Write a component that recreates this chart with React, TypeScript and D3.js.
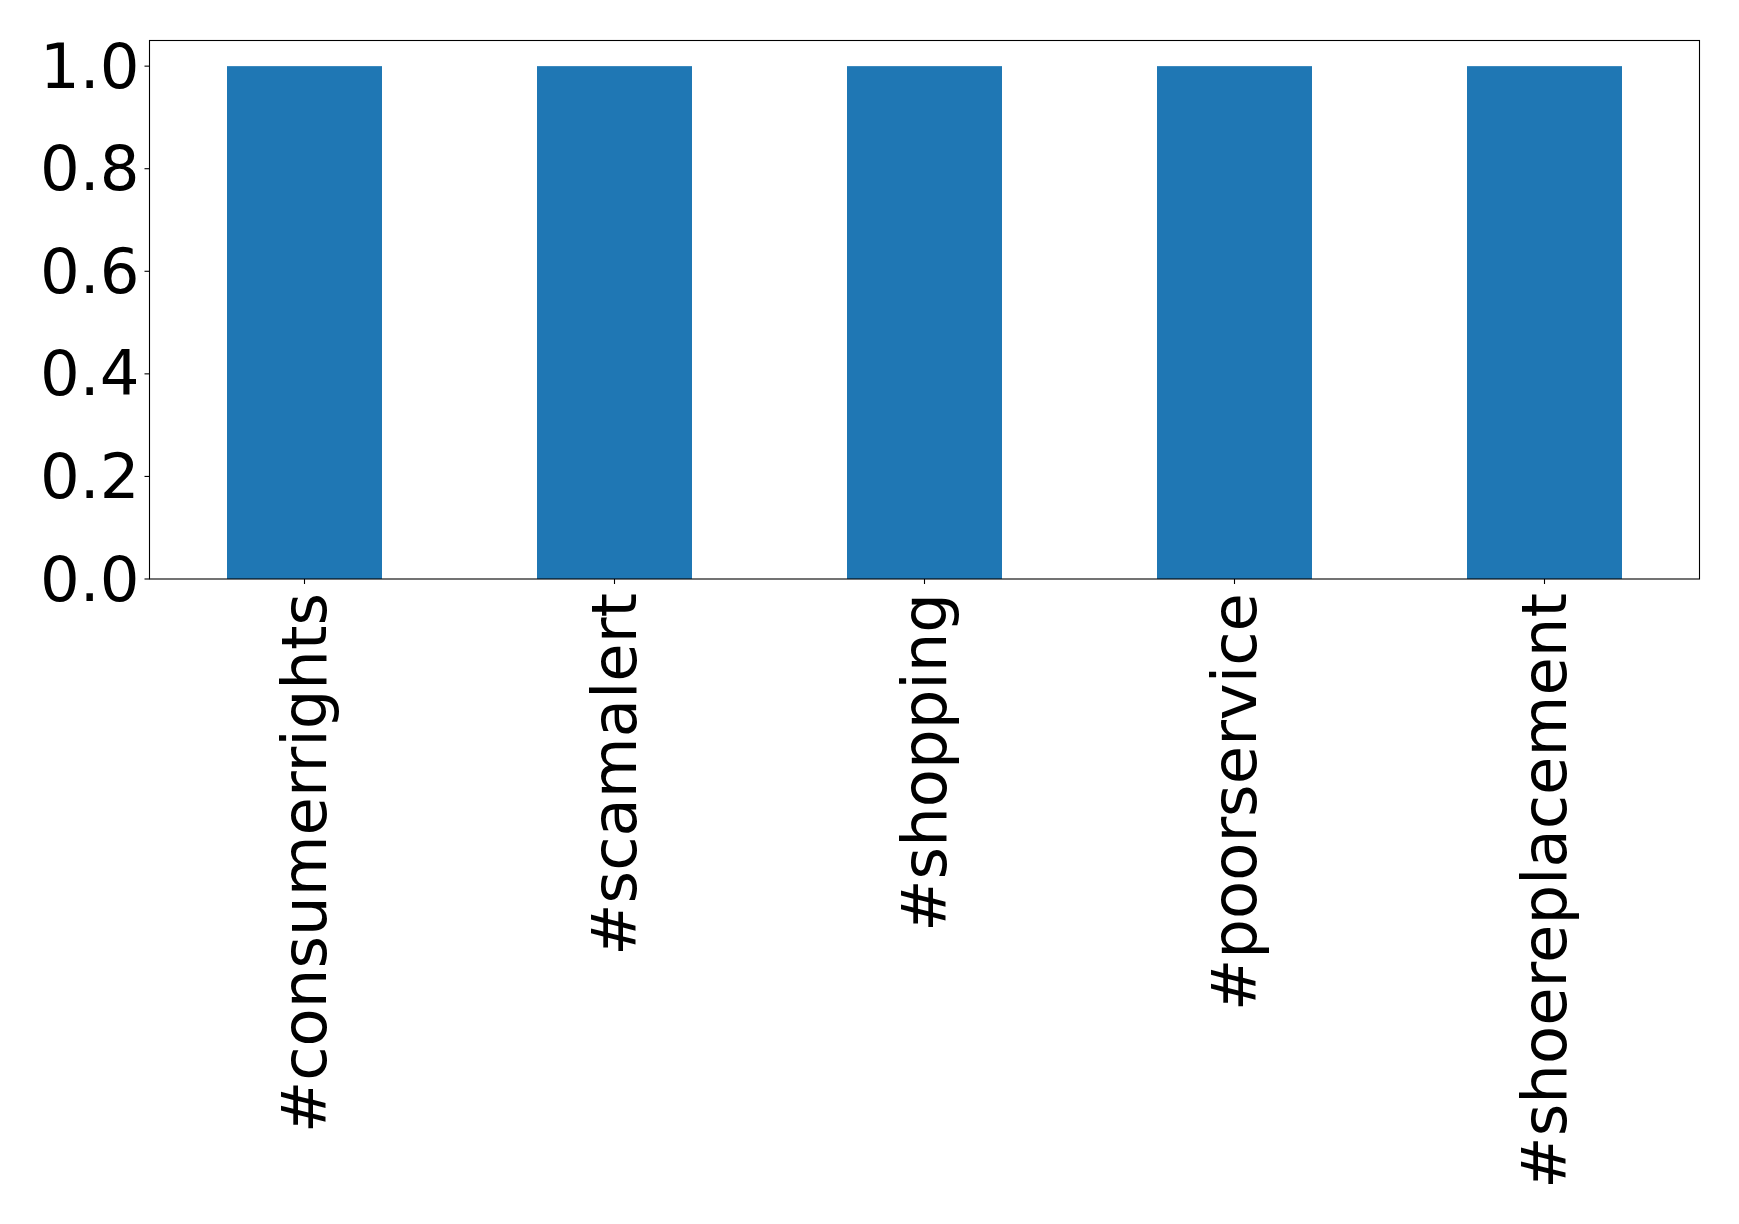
import React from "react";
import * as d3 from "d3";

const categories = ["#consumerrights", "#scamalert", "#shopping", "#poorservice", "#shoereplacement"];
const values = [1, 1, 1, 1, 1];
const yTicks = [0, 0.2, 0.4, 0.6, 0.8, 1.0];

export default function App() {
  const W = 1739, H = 1224;
  const left = 149.5, right = 1699.5, top = 40.5, bottom = 579;
  const x = d3.scaleLinear().domain([-0.5, categories.length - 0.5]).range([left, right]);
  const y = d3.scaleLinear().domain([0, 1.05]).range([bottom, top]);
  const bw = x(0.25) - x(-0.25);
  const fs = 62.5;
  return (
    <svg width={W} height={H} style={{ position: "absolute", left: 0, top: 0, background: "#fff" }}
      fontFamily="'DejaVu Sans', sans-serif">
      <rect x={0} y={0} width={W} height={H} fill="#fff" />
      {values.map((v, i) => (
        <rect key={i} x={x(i) - bw / 2} y={y(v)} width={bw} height={y(0) - y(v)} fill="#1f77b4" />
      ))}
      <rect x={left} y={top} width={right - left} height={bottom - top} fill="none" stroke="#000" strokeWidth={1.1} />
      {yTicks.map((t) => (
        <g key={t}>
          <line x1={left - 5} x2={left} y1={y(t)} y2={y(t)} stroke="#000" strokeWidth={1.1} />
          <text x={left - 10} y={y(t)} textAnchor="end" dominantBaseline="central" fontSize={fs} fill="#000">
            {t.toFixed(1)}
          </text>
        </g>
      ))}
      {categories.map((c, i) => (
        <g key={c}>
          <line x1={x(i)} x2={x(i)} y1={bottom} y2={bottom + 5} stroke="#000" strokeWidth={1.1} />
          <text transform={`translate(${x(i)},${bottom + 14}) rotate(-90)`} textAnchor="end"
            dominantBaseline="central" fontSize={fs} fill="#000">
            {c}
          </text>
        </g>
      ))}
    </svg>
  );
}
